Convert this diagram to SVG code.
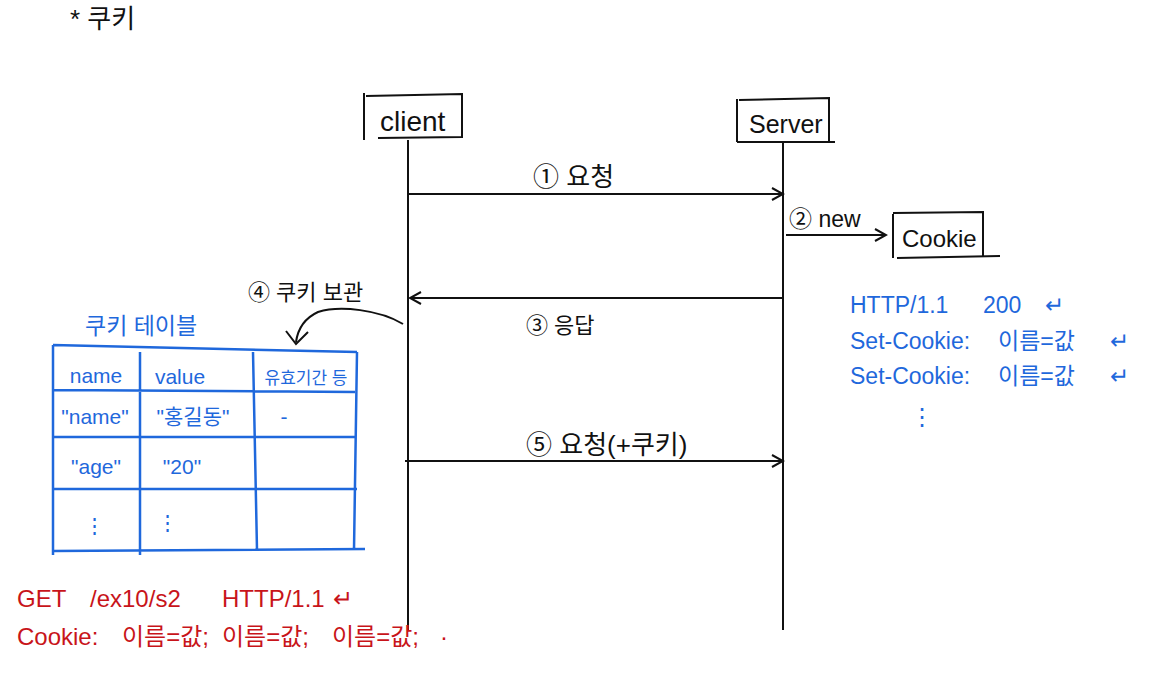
<svg xmlns="http://www.w3.org/2000/svg" width="1150" height="676" viewBox="0 0 1150 676">
<defs>
<style>
text{font-family:"Liberation Sans","Noto Sans CJK KR",sans-serif;}
.k{fill:#111;font-size:22px;}
.b{fill:#1f68dc;font-size:21px;}
.r{fill:#c8141a;font-size:24px;}
.ln{stroke:#111;stroke-width:2;fill:none;}
.bl{stroke:#1f68dc;stroke-width:2.5;fill:none;}
</style>
<marker id="ah" markerWidth="14" markerHeight="14" refX="12" refY="7" orient="auto" markerUnits="userSpaceOnUse">
<path d="M1,1 L12,7 L1,13" fill="none" stroke="#111" stroke-width="2"/>
</marker>
</defs>
<rect width="1150" height="676" fill="#fff"/>
<text class="k" x="70" y="28" style="font-size:26px">* 쿠키</text>

<g id="client">
<path class="ln" d="M364,93 L364,140 M366,96 L462,94 L462,138 M378,138 L462,137"/>
<text class="k" x="380" y="131" style="font-size:28px">client</text>
</g>
<g id="server">
<path class="ln" d="M737,99 L737,142 M739,100 L829,98 L829,141 M737,142 L835,142"/>
<text class="k" x="749" y="133" style="font-size:25px">Server</text>
</g>
<g id="cookie">
<path class="ln" d="M893,214 L893,258 M893,213 L983,212 L983,256 M897,258 L1000,256"/>
<text class="k" x="902" y="247" style="font-size:24px">Cookie</text>
</g>

<g id="connectors">
<line class="ln" x1="408" y1="140" x2="408" y2="630"/>
<line class="ln" x1="783" y1="142" x2="783" y2="630"/>
<line class="ln" x1="408" y1="194" x2="783" y2="194" marker-end="url(#ah)"/>
<line class="ln" x1="786" y1="235" x2="886" y2="235" marker-end="url(#ah)"/>
<line class="ln" x1="783" y1="298" x2="410" y2="298" marker-end="url(#ah)"/>
<line class="ln" x1="405" y1="461" x2="783" y2="461" marker-end="url(#ah)"/>
<path class="ln" d="M403,324 C380,310 340,305 318,312 C305,318 298,328 296,342" stroke-width="2.5"/>
<path class="ln" d="M286,331 L296,344 L308,332" stroke-width="2.5"/>
</g>

<g id="labels">
<text class="k" x="533" y="186" style="font-size:26px">① 요청</text>
<text class="k" x="789" y="227" style="font-size:23px">② new</text>
<text class="k" x="526" y="333">③ 응답</text>
<text class="k" x="248" y="300">④ 쿠키 보관</text>
<text class="k" x="526" y="454" style="font-size:26px">⑤ 요청(+쿠키)</text>
</g>

<g id="response">
<text class="b" y="313" style="font-size:23px"><tspan x="850">HTTP/1.1</tspan><tspan x="983">200</tspan><tspan x="1045">↵</tspan></text>
<text class="b" y="349" style="font-size:23px"><tspan x="850">Set-Cookie:</tspan><tspan x="998">이름=값</tspan><tspan x="1110">↵</tspan></text>
<text class="b" y="384" style="font-size:23px"><tspan x="850">Set-Cookie:</tspan><tspan x="998">이름=값</tspan><tspan x="1110">↵</tspan></text>
<text class="b" x="910" y="425" style="font-size:24px">⋮</text>
</g>

<g id="cookie-table">
<text class="b" x="85" y="334" style="font-size:23px">쿠키 테이블</text>
<path class="bl" d="M53,345 L357,352 M53,345 L53,555 M140,352 L140,555 M253,352 L257,550 M357,352 L354,550 M53,390 L355,392 M53,437 L355,437 M53,489 L357,489 M53,551 L365,549"/>
<text class="b" x="96" y="383" text-anchor="middle">name</text>
<text class="b" x="180" y="384" text-anchor="middle">value</text>
<text class="b" x="306" y="384" text-anchor="middle" style="font-size:17px">유효기간 등</text>
<text class="b" x="95" y="424" text-anchor="middle">"name"</text>
<text class="b" x="193" y="424" text-anchor="middle">"홍길동"</text>
<text class="b" x="284" y="424" text-anchor="middle">-</text>
<text class="b" x="96" y="474" text-anchor="middle">"age"</text>
<text class="b" x="182" y="474" text-anchor="middle">"20"</text>
<text class="b" x="94" y="533" text-anchor="middle">⋮</text>
<text class="b" x="167" y="530" text-anchor="middle">⋮</text>
</g>

<g id="request">
<text class="r" y="607"><tspan x="17">GET</tspan><tspan x="90">/ex10/s2</tspan><tspan x="222">HTTP/1.1</tspan><tspan x="333">↵</tspan></text>
<text class="r" y="645"><tspan x="17">Cookie:</tspan><tspan x="122">이름=값;</tspan><tspan x="222">이름=값;</tspan><tspan x="332">이름=값;</tspan><tspan x="440">·</tspan></text>
</g>
</svg>
